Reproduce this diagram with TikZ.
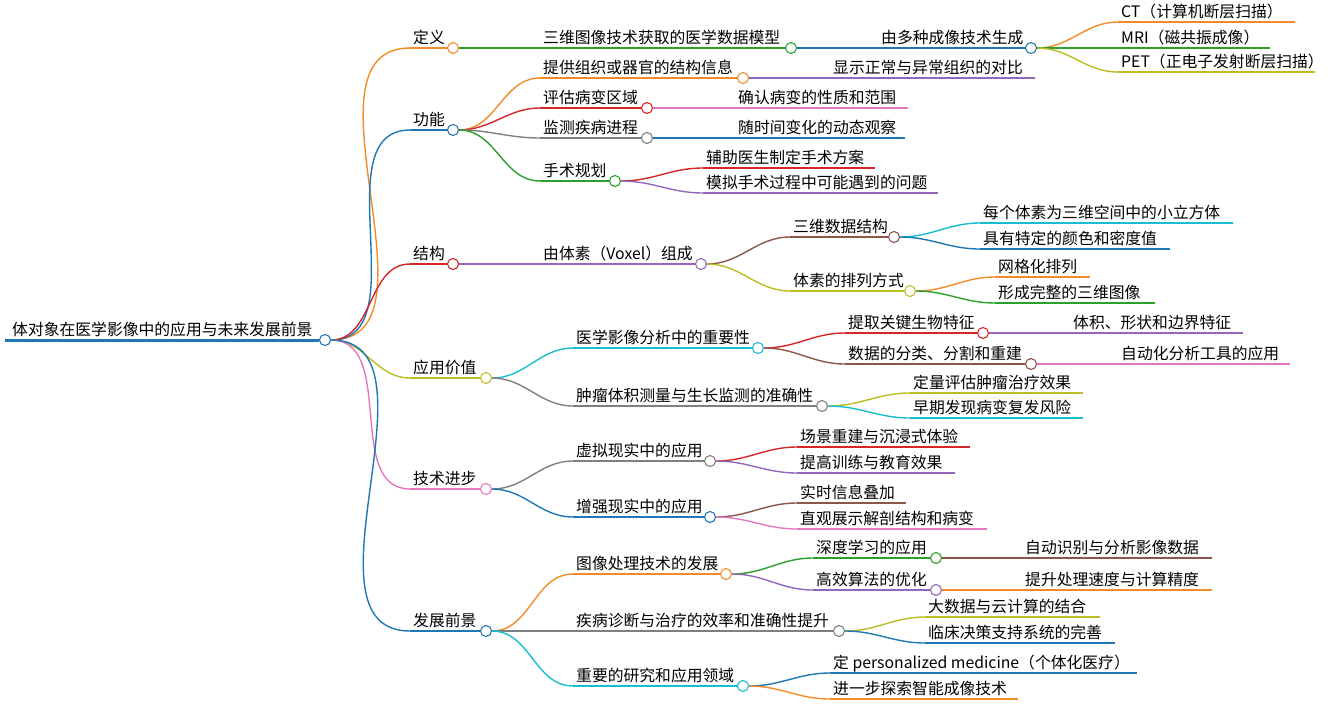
\documentclass[tikz,border=0pt]{standalone}
\usepackage{fontspec}
\setmainfont{Noto Sans CJK SC}
\definecolor{cO}{HTML}{F28C28}
\definecolor{cG}{HTML}{2CA02C}
\definecolor{cB}{HTML}{1F77B4}
\definecolor{cY}{HTML}{BCBD22}
\definecolor{cR}{HTML}{D62728}
\definecolor{cP}{HTML}{9467BD}
\definecolor{cK}{HTML}{E377C2}
\definecolor{cA}{HTML}{7F7F7F}
\definecolor{cN}{HTML}{8C564B}
\definecolor{cC}{HTML}{17BECF}
\tikzset{lbl/.style={anchor=base west,inner sep=0pt,font=\fontsize{15.8}{16}\selectfont},
 edge/.style={line width=1.4pt},
 dot/.style={circle,draw,fill=white,line width=1.1pt,minimum size=11pt,inner sep=0pt}}
% #1 name #2 x1 #3 x2 #4 y #5 color #6 text #7 parent
\newcommand\MN[7]{%
 \coordinate (#1-s) at (#2,#4);
 \draw[edge,#5] (#7-o) to[out=0,in=180] (#1-s);
 \draw[edge,#5] (#1-s) -- (#3,#4);
 \node[lbl] (#1) at (#2+3,#4-5) {#6};
 \node[dot,draw=#5] (#1-c) at (#3+6,#4) {};
 \coordinate (#1-o) at (#3+12,#4);}
\newcommand\ML[7]{%
 \coordinate (#1-s) at (#2,#4);
 \draw[edge,#5] (#7-o) to[out=0,in=180] (#1-s);
 \draw[edge,#5] (#1-s) -- (#3,#4);
 \node[lbl] (#1) at (#2+3,#4-5) {#6};}
\begin{document}
\begin{tikzpicture}[x=1pt,y=-1pt]
\useasboundingbox (0,0) rectangle (1341,721);
\draw[line width=3pt,cB] (5,340) -- (319,340);
\node[lbl] (root) at (12,335) {体对象在医学影像中的应用与未来发展前景};
\node[dot,draw=cB] (root-c) at (325,340) {};
\coordinate (root-o) at (331,340);
% 定义
\MN{a}{410}{447}{48}{cO}{定义}{root}
\MN{a1}{540}{785}{48}{cG}{三维图像技术获取的医学数据模型}{a}
\MN{a11}{878}{1025}{48}{cB}{由多种成像技术生成}{a1}
\ML{a111}{1118}{1295}{22}{cO}{CT（计算机断层扫描）}{a11}
\ML{a112}{1118}{1270}{48}{cG}{MRI（磁共振成像）}{a11}
\ML{a113}{1118}{1315}{72}{cY}{PET（正电子发射断层扫描）}{a11}
% 功能
\MN{b}{410}{447}{130}{cB}{功能}{root}
\MN{b1}{540}{737}{78}{cO}{提供组织或器官的结构信息}{b}
\ML{b11}{830}{1035}{78}{cP}{显示正常与异常组织的对比}{b1}
\MN{b2}{540}{641}{108}{cR}{评估病变区域}{b}
\ML{b21}{735}{908}{108}{cK}{确认病变的性质和范围}{b2}
\MN{b3}{540}{641}{138}{cA}{监测疾病进程}{b}
\ML{b31}{735}{905}{138}{cB}{随时间变化的动态观察}{b3}
\MN{b4}{540}{609}{181}{cG}{手术规划}{b}
\ML{b41}{703}{875}{168}{cR}{辅助医生制定手术方案}{b4}
\ML{b42}{703}{938}{193}{cP}{模拟手术过程中可能遇到的问题}{b4}
% 结构
\MN{c}{410}{447}{264}{cR}{结构}{root}
\MN{c1}{540}{695}{264}{cP}{由体素（Voxel）组成}{c}
\MN{c11}{790}{888}{237}{cN}{三维数据结构}{c1}
\ML{c111}{980}{1233}{223}{cC}{每个体素为三维空间中的小立方体}{c11}
\ML{c112}{980}{1170}{249}{cB}{具有特定的颜色和密度值}{c11}
\MN{c12}{790}{904}{291}{cY}{体素的排列方式}{c1}
\ML{c121}{995}{1090}{277}{cO}{网格化排列}{c12}
\ML{c122}{995}{1155}{303}{cG}{形成完整的三维图像}{c12}
% 应用价值
\MN{d}{410}{480}{378}{cY}{应用价值}{root}
\MN{d1}{573}{752}{348}{cC}{医学影像分析中的重要性}{d}
\MN{d11}{845}{977}{333}{cR}{提取关键生物特征}{d1}
\ML{d111}{1070}{1243}{333}{cP}{体积、形状和边界特征}{d11}
\MN{d12}{845}{1025}{364}{cN}{数据的分类、分割和重建}{d1}
\ML{d121}{1118}{1290}{364}{cK}{自动化分析工具的应用}{d12}
\MN{d2}{573}{816}{406}{cA}{肿瘤体积测量与生长监测的准确性}{d}
\ML{d21}{910}{1083}{393}{cY}{定量评估肿瘤治疗效果}{d2}
\ML{d22}{910}{1083}{418}{cC}{早期发现病变复发风险}{d2}
% 技术进步
\MN{e}{410}{480}{489}{cK}{技术进步}{root}
\MN{e1}{573}{704}{461}{cA}{虚拟现实中的应用}{e}
\ML{e11}{797}{970}{447}{cR}{场景重建与沉浸式体验}{e1}
\ML{e12}{797}{955}{473}{cP}{提高训练与教育效果}{e1}
\MN{e2}{573}{704}{517}{cB}{增强现实中的应用}{e}
\ML{e21}{797}{906}{503}{cN}{实时信息叠加}{e2}
\ML{e22}{797}{987}{529}{cK}{直观展示解剖结构和病变}{e2}
% 发展前景
\MN{f}{410}{480}{631}{cB}{发展前景}{root}
\MN{f1}{573}{720}{574}{cO}{图像处理技术的发展}{f}
\MN{f11}{813}{930}{558}{cG}{深度学习的应用}{f1}
\ML{f111}{1022}{1212}{558}{cN}{自动识别与分析影像数据}{f11}
\MN{f12}{813}{930}{590}{cP}{高效算法的优化}{f1}
\ML{f121}{1022}{1212}{590}{cO}{提升处理速度与计算精度}{f12}
\MN{f2}{573}{833}{631}{cA}{疾病诊断与治疗的效率和准确性提升}{f}
\ML{f21}{925}{1100}{617}{cY}{大数据与云计算的结合}{f2}
\ML{f22}{925}{1115}{643}{cB}{临床决策支持系统的完善}{f2}
\MN{f3}{573}{737}{686}{cC}{重要的研究和应用领域}{f}
\ML{f31}{830}{1137}{673}{cB}{定 personalized medicine（个体化医疗）}{f3}
\ML{f32}{830}{1018}{699}{cO}{进一步探索智能成像技术}{f3}
\end{tikzpicture}
\end{document}
